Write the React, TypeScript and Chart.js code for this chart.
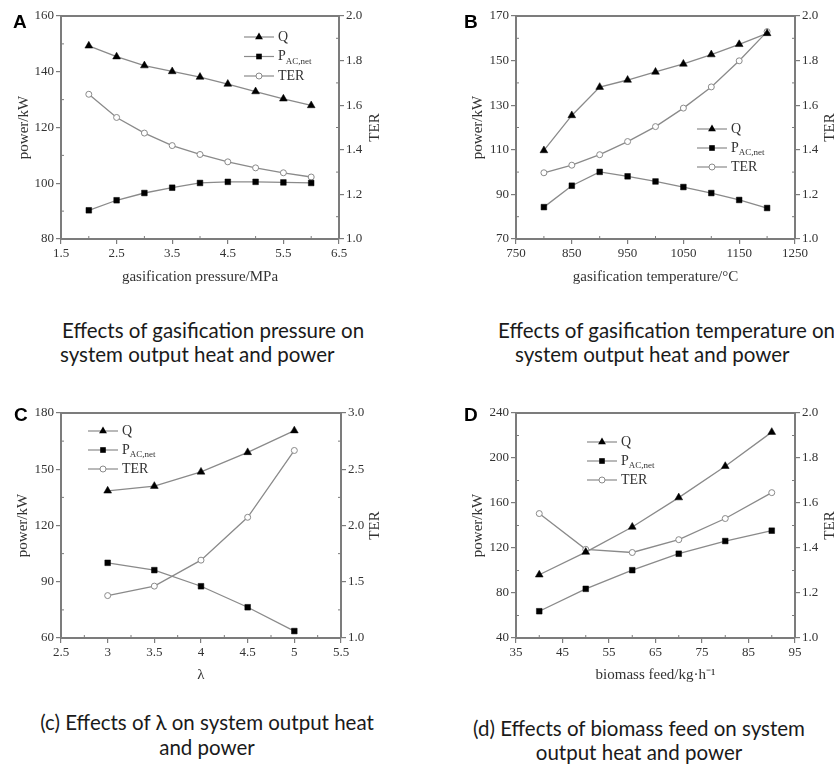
import React, { useEffect, useRef } from "react";
import { Chart, registerables } from "chart.js";

Chart.register(...registerables);

// ---------- Panel A: gasification pressure ----------
const pressure = [2, 2.5, 3, 3.5, 4, 4.5, 5, 5.5, 6];
const qA = [149.3, 145.4, 142.2, 140.1, 138.1, 135.6, 132.9, 130.3, 127.9];
const pA = [90.3, 93.9, 96.5, 98.4, 100.1, 100.5, 100.5, 100.3, 100.1];
const terA = [1.649, 1.545, 1.475, 1.419, 1.379, 1.346, 1.319, 1.297, 1.278];
const aXTicks = ["1.5", "2.5", "3.5", "4.5", "5.5", "6.5"];
const aYTicks = ["80", "100", "120", "140", "160"];
const aY2Ticks = ["1.0", "1.2", "1.4", "1.6", "1.8", "2.0"];

// ---------- Panel B: gasification temperature ----------
const temperature = [800, 850, 900, 950, 1000, 1050, 1100, 1150, 1200];
const qB = [109.7, 125.4, 138.1, 141.3, 144.9, 148.5, 152.7, 157.3, 162.2];
const pB = [84.3, 93.9, 100.1, 98.1, 95.8, 93.3, 90.6, 87.5, 83.9];
const terB = [1.297, 1.331, 1.378, 1.437, 1.504, 1.587, 1.682, 1.799, 1.93];
const bXTicks = ["750", "850", "950", "1050", "1150", "1250"];
const bYTicks = ["70", "90", "110", "130", "150", "170"];
const bY2Ticks = ["1.0", "1.2", "1.4", "1.6", "1.8", "2.0"];

// ---------- Panel C: lambda ----------
const lambda = [3, 3.5, 4, 4.5, 5];
const qC = [138.5, 141.0, 148.6, 159.0, 170.6];
const pC = [100.1, 96.2, 87.6, 76.4, 63.7];
const terC = [1.377, 1.461, 1.692, 2.073, 2.667];
const cXTicks = ["2.5", "3", "3.5", "4", "4.5", "5", "5.5"];
const cYTicks = ["60", "90", "120", "150", "180"];
const cY2Ticks = ["1.0", "1.5", "2.0", "2.5", "3.0"];

// ---------- Panel D: biomass feed ----------
const feed = [40, 50, 60, 70, 80, 90];
const qD = [96.2, 116.4, 138.7, 164.8, 192.7, 223.0];
const pD = [63.8, 83.7, 100.3, 114.9, 126.2, 135.4];
const terD = [1.553, 1.394, 1.38, 1.437, 1.531, 1.646];
const dXTicks = ["35", "45", "55", "65", "75", "85", "95"];
const dYTicks = ["40", "80", "120", "160", "200", "240"];
const dY2Ticks = ["1.0", "1.2", "1.4", "1.6", "1.8", "2.0"];

const seriesNames = ["Q", "P", "TER"];

const LINE = "#8a8a8a";
const AXIS = "#7c7c7c";
const TEXT = "#333333";
const SERIF = '"Liberation Serif", "Times New Roman", serif';

type Area = { l: number; r: number; t: number; b: number };
type PanelCfg = {
  left: number; top: number; w: number; h: number;
  area: Area;
  xs: number[]; q: number[]; p: number[]; ter: number[];
  xTicks: string[]; yTicks: string[]; y2Ticks: string[];
  xTitle: string;
  yTitlePad: number; xTitlePad: number; y2TitleX: number;
  legend: { x: number; y: number; dy: number };
};

const nums = (a: string[]) => a.map((s) => parseFloat(s));
const mids = (a: number[]) => a.slice(1).map((v, i) => (v + a[i]) / 2);

const decorPlugin = {
  id: "decor",
  afterDraw(chart: any, _args: any, opts: any) {
    const ctx = chart.ctx as CanvasRenderingContext2D;
    const { left, right, top, bottom } = chart.chartArea;
    const xs = chart.scales.x, ys = chart.scales.y, y2 = chart.scales.y2;
    ctx.save();
    // top frame line
    ctx.strokeStyle = AXIS;
    ctx.lineWidth = 2;
    ctx.beginPath();
    ctx.moveTo(left - 1, top);
    ctx.lineTo(right + 1, top);
    ctx.stroke();
    // minor ticks (inward)
    ctx.lineWidth = 1;
    const seg = (x1: number, y1: number, x2: number, y2p: number) => {
      ctx.beginPath(); ctx.moveTo(x1, y1); ctx.lineTo(x2, y2p); ctx.stroke();
    };
    (opts.xMinor as number[]).forEach((v) => { const px = xs.getPixelForValue(v); seg(px, bottom, px, bottom - 3); });
    (opts.yMinor as number[]).forEach((v) => { const py = ys.getPixelForValue(v); seg(left, py, left + 3, py); });
    (opts.y2Minor as number[]).forEach((v) => { const py = y2.getPixelForValue(v); seg(right, py, right - 3, py); });
    // right axis title
    ctx.save();
    ctx.translate(opts.y2TitleX, (top + bottom) / 2);
    ctx.rotate(-Math.PI / 2);
    ctx.font = `15px ${SERIF}`;
    ctx.fillStyle = TEXT;
    ctx.textAlign = "center";
    ctx.textBaseline = "middle";
    ctx.fillText("TER", 0, 0);
    ctx.restore();
    // legend
    const { x, y, dy } = opts.legend;
    const names = opts.names as string[];
    names.forEach((name, i) => {
      const yy = y + i * dy;
      ctx.strokeStyle = LINE;
      ctx.lineWidth = 1.2;
      seg(x, yy, x + 30, yy);
      const cx = x + 15;
      if (i === 0) {
        const r = 4.5;
        ctx.fillStyle = "#000";
        ctx.beginPath();
        ctx.moveTo(cx, yy - r);
        ctx.lineTo(cx + r * Math.sin((2 * Math.PI) / 3), yy - r * Math.cos((2 * Math.PI) / 3));
        ctx.lineTo(cx + r * Math.sin((4 * Math.PI) / 3), yy - r * Math.cos((4 * Math.PI) / 3));
        ctx.closePath();
        ctx.fill();
      } else if (i === 1) {
        ctx.fillStyle = "#000";
        ctx.fillRect(cx - 2.8, yy - 2.8, 5.6, 5.6);
      } else {
        ctx.fillStyle = "#fff";
        ctx.strokeStyle = LINE;
        ctx.lineWidth = 1;
        ctx.beginPath();
        ctx.arc(cx, yy, 3, 0, Math.PI * 2);
        ctx.fill();
        ctx.stroke();
      }
      ctx.fillStyle = TEXT;
      ctx.textAlign = "left";
      ctx.textBaseline = "middle";
      ctx.font = `14px ${SERIF}`;
      const tx = x + 34;
      if (name === "P") {
        ctx.fillText("P", tx, yy);
        const pw = ctx.measureText("P").width;
        ctx.font = `9px ${SERIF}`;
        ctx.fillText("AC,net", tx + pw, yy + 5);
      } else {
        ctx.fillText(name, tx, yy);
      }
    });
    ctx.restore();
  },
};

function buildConfig(c: PanelCfg): any {
  const xv = nums(c.xTicks), yv = nums(c.yTicks), y2v = nums(c.y2Ticks);
  const pts = (arr: number[]) => c.xs.map((x, i) => ({ x, y: arr[i] }));
  const tickFont = { family: SERIF, size: 13 };
  const common = (vals: number[], labels: string[]) => ({
    type: "linear",
    min: vals[0],
    max: vals[vals.length - 1],
    afterBuildTicks: (s: any) => { s.ticks = vals.map((v) => ({ value: v })); },
    ticks: {
      autoSkip: false,
      maxRotation: 0,
      padding: 2,
      color: TEXT,
      font: tickFont,
      callback: (_v: any, i: number) => labels[i],
    },
    grid: { display: true, drawOnChartArea: false, drawTicks: true, tickLength: 5, color: AXIS, lineWidth: 1.2 },
    border: { display: true, color: AXIS, width: 2 },
  });
  return {
    type: "line",
    data: {
      datasets: [
        {
          label: seriesNames[0], data: pts(c.q), yAxisID: "y",
          borderColor: LINE, borderWidth: 1.3, pointStyle: "triangle", pointRadius: 4.5,
          pointBackgroundColor: "#000", pointBorderColor: "#000", pointBorderWidth: 0.5,
        },
        {
          label: seriesNames[1], data: pts(c.p), yAxisID: "y",
          borderColor: LINE, borderWidth: 1.3, pointStyle: "rect", pointRadius: 4,
          pointBackgroundColor: "#000", pointBorderColor: "#000", pointBorderWidth: 0.5,
        },
        {
          label: seriesNames[2], data: pts(c.ter), yAxisID: "y2",
          borderColor: LINE, borderWidth: 1.3, pointStyle: "circle", pointRadius: 3,
          pointBackgroundColor: "#fff", pointBorderColor: LINE, pointBorderWidth: 1,
        },
      ],
    },
    options: {
      animation: false,
      responsive: false,
      devicePixelRatio: 1,
      layout: { padding: { top: c.area.t, left: 0, right: 0, bottom: 0 } },
      plugins: {
        legend: { display: false },
        tooltip: { enabled: false },
        decor: {
          xMinor: mids(xv), yMinor: mids(yv), y2Minor: mids(y2v),
          y2TitleX: c.y2TitleX, legend: c.legend, names: seriesNames,
        },
      },
      scales: {
        x: {
          ...common(xv, c.xTicks),
          position: "bottom",
          afterFit: (s: any) => { s.height = c.h - c.area.b; },
          title: { display: true, text: c.xTitle, color: TEXT, font: { family: SERIF, size: 15 }, padding: { top: 0, bottom: c.xTitlePad } },
        },
        y: {
          ...common(yv, c.yTicks),
          position: "left",
          afterFit: (s: any) => { s.width = c.area.l; },
          title: { display: true, text: "power/kW", color: TEXT, font: { family: SERIF, size: 15 }, padding: { top: c.yTitlePad, bottom: 0 } },
        },
        y2: {
          ...common(y2v, c.y2Ticks),
          position: "right",
          afterFit: (s: any) => { s.width = c.w - c.area.r; },
        },
      },
    },
    plugins: [decorPlugin],
  };
}

const panels: PanelCfg[] = [
  {
    left: 0, top: 0, w: 417, h: 300, area: { l: 61, r: 339, t: 16, b: 239 },
    xs: pressure, q: qA, p: pA, ter: terA, xTicks: aXTicks, yTicks: aYTicks, y2Ticks: aY2Ticks,
    xTitle: "gasification pressure/MPa", yTitlePad: 15, xTitlePad: 14, y2TitleX: 375,
    legend: { x: 244, y: 37, dy: 19.5 },
  },
  {
    left: 417, top: 0, w: 417, h: 300, area: { l: 99, r: 378, t: 16, b: 239 },
    xs: temperature, q: qB, p: pB, ter: terB, xTicks: bXTicks, yTicks: bYTicks, y2Ticks: bY2Ticks,
    xTitle: "gasification temperature/°C", yTitlePad: 52, xTitlePad: 14, y2TitleX: 413,
    legend: { x: 280, y: 129, dy: 19 },
  },
  {
    left: 0, top: 380, w: 417, h: 320, area: { l: 61, r: 341, t: 33, b: 258 },
    xs: lambda, q: qC, p: pC, ter: terC, xTicks: cXTicks, yTicks: cYTicks, y2Ticks: cY2Ticks,
    xTitle: "λ", yTitlePad: 14, xTitlePad: 16, y2TitleX: 375,
    legend: { x: 88, y: 51, dy: 19 },
  },
  {
    left: 417, top: 380, w: 417, h: 320, area: { l: 99, r: 378, t: 33, b: 258 },
    xs: feed, q: qD, p: pD, ter: terD, xTicks: dXTicks, yTicks: dYTicks, y2Ticks: dY2Ticks,
    xTitle: "biomass feed/kg·h⁻¹", yTitlePad: 52, xTitlePad: 16, y2TitleX: 413,
    legend: { x: 170, y: 62, dy: 19 },
  },
];

function Panel({ cfg }: { cfg: PanelCfg }) {
  const ref = useRef<HTMLCanvasElement>(null);
  useEffect(() => {
    const chart = new Chart(ref.current as HTMLCanvasElement, buildConfig(cfg));
    return () => chart.destroy();
  }, [cfg]);
  return (
    <canvas
      ref={ref}
      width={cfg.w}
      height={cfg.h}
      style={{ position: "absolute", left: cfg.left, top: cfg.top, width: cfg.w, height: cfg.h }}
    />
  );
}

const letters = [
  { t: "A", x: 13, y: 12 },
  { t: "B", x: 464, y: 12 },
  { t: "C", x: 14, y: 405 },
  { t: "D", x: 464, y: 405 },
];

// x: left edge (align "left") or centre (align "center")
const captions = [
  { t: "Effects of gasification pressure on", x: 62, y: 330, a: "left" },
  { t: "system output heat and power", x: 60, y: 354, a: "left" },
  { t: "Effects of gasification temperature on", x: 498, y: 330, a: "left" },
  { t: "system output heat and power", x: 515, y: 354, a: "left" },
  { t: "(c) Effects of λ on system output heat", x: 207, y: 722, a: "center" },
  { t: "and power", x: 207, y: 747, a: "center" },
  { t: "(d) Effects of biomass feed on system", x: 639, y: 728, a: "center" },
  { t: "output heat and power", x: 639, y: 752, a: "center" },
];

export default function App() {
  return (
    <div
      style={{
        position: "absolute", left: 0, top: 0, width: 834, height: 766,
        background: "#fff", overflow: "hidden",
      }}
    >
      {panels.map((p, i) => (
        <Panel key={i} cfg={p} />
      ))}
      {letters.map((l) => (
        <div
          key={l.t}
          style={{
            position: "absolute", left: l.x, top: l.y, fontFamily: '"Liberation Sans", Arial, sans-serif',
            fontWeight: 700, fontSize: 19, lineHeight: "19px", color: "#000",
          }}
        >
          {l.t}
        </div>
      ))}
      {captions.map((c, i) => (
        <div
          key={i}
          style={{
            position: "absolute",
            left: c.a === "center" ? c.x - 250 : c.x,
            width: c.a === "center" ? 500 : undefined,
            textAlign: c.a === "center" ? "center" : "left",
            top: c.y - 12, height: 24, lineHeight: "24px",
            fontFamily: 'Lato, "Open Sans", sans-serif', fontSize: 20.5, color: "#1a1a1a", whiteSpace: "nowrap",
          }}
        >
          {c.t}
        </div>
      ))}
    </div>
  );
}
